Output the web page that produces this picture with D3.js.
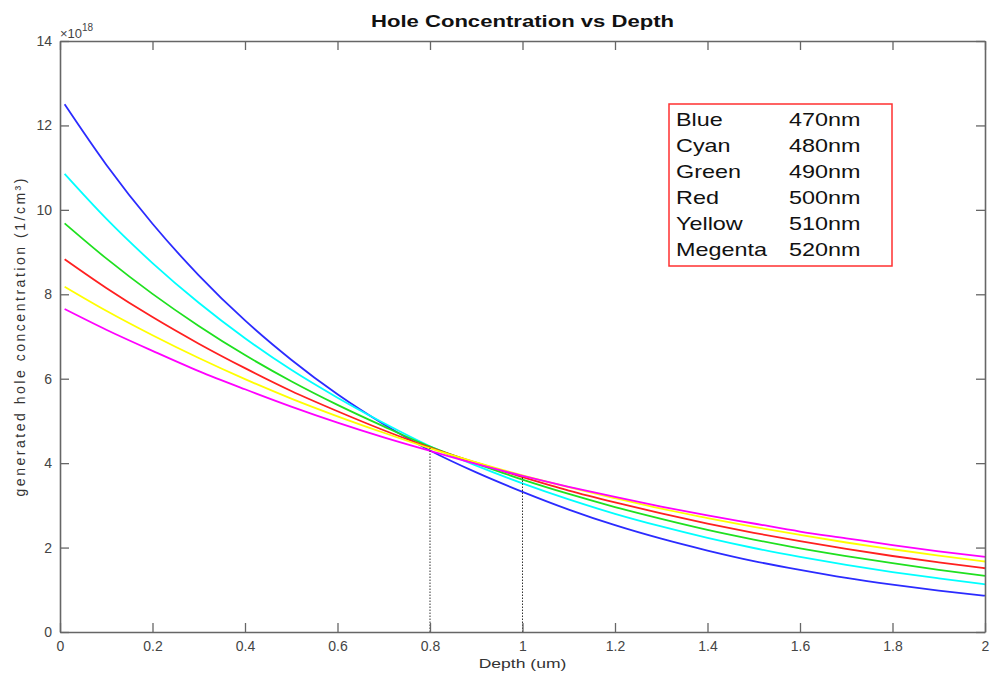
<!DOCTYPE html>
<html>
<head>
<meta charset="utf-8">
<script src="https://cdn.jsdelivr.net/npm/d3@7"></script>
<style>
  body { margin: 0; background: #fff; }
  text { font-family: "Liberation Sans", Arial, Helvetica, sans-serif; }
</style>
</head>
<body>
<script>
// depth (um) and generated hole concentration (x1e18 1/cm^3)
var depth = [0.01, 0.1, 0.2, 0.3, 0.4, 0.5, 0.6, 0.7, 0.8, 0.9, 1.0,
  1.1, 1.2, 1.3, 1.4, 1.5, 1.6, 1.7, 1.8, 1.9, 2.0];
var blue = [12.50, 11.07, 9.67, 8.45, 7.38, 6.45, 5.63, 4.92, 4.30, 3.78, 3.32,
  2.90, 2.53, 2.21, 1.93, 1.68, 1.47, 1.28, 1.12, 0.98, 0.86];
var cyan = [10.85, 9.79, 8.74, 7.80, 6.96, 6.21, 5.55, 4.95, 4.40, 3.94, 3.52,
  3.14, 2.80, 2.50, 2.23, 1.99, 1.78, 1.59, 1.42, 1.27, 1.13];
var green = [9.68, 8.85, 8.01, 7.25, 6.56, 5.94, 5.38, 4.87, 4.39, 3.99, 3.61,
  3.27, 2.96, 2.68, 2.42, 2.19, 1.98, 1.80, 1.63, 1.47, 1.33];
var red = [8.83, 8.15, 7.46, 6.83, 6.25, 5.71, 5.23, 4.78, 4.37, 4.01, 3.67,
  3.35, 3.07, 2.81, 2.57, 2.35, 2.15, 1.97, 1.80, 1.65, 1.51];
var yellow = [8.18, 7.61, 7.03, 6.49, 5.99, 5.53, 5.11, 4.72, 4.35, 4.02, 3.71,
  3.43, 3.17, 2.92, 2.70, 2.49, 2.30, 2.12, 1.96, 1.81, 1.67];
var magenta = [7.65, 7.16, 6.66, 6.18, 5.75, 5.34, 4.96, 4.61, 4.29, 3.98, 3.70,
  3.44, 3.20, 2.97, 2.76, 2.57, 2.38, 2.22, 2.06, 1.91, 1.78];

var seriesValues = [blue, cyan, green, red, yellow, magenta];
var seriesColors = ["#2b2bff", "#00ffff", "#1fe01f", "#ff2020", "#ffff00", "#ff00ff"];
var legendNames = ["Blue", "Cyan", "Green", "Red", "Yellow", "Megenta"];
var legendWaves = ["470nm", "480nm", "490nm", "500nm", "510nm", "520nm"];

var xTicks = [0, 0.2, 0.4, 0.6, 0.8, 1, 1.2, 1.4, 1.6, 1.8, 2];
var yTicks = [0, 2, 4, 6, 8, 10, 12, 14];

// dotted markers: depth, concentration reached
var markDepth = [0.8, 1.0];
var markValue = [4.36, 3.67];

var width = 990,
  height = 680,
  plotLeft = 60,
  plotRight = 985,
  plotTop = 41,
  plotBottom = 632,
  sx = 1.3; // text in the picture is drawn wide

var svg = d3.select("body")
  .append("svg")
  .attr("width", width)
  .attr("height", height);

var xScale = d3.scaleLinear().domain([0, 2]).range([plotLeft, plotRight]);
var yScale = d3.scaleLinear().domain([0, 14]).range([plotBottom, plotTop]);

function wideText(x, y, str, size, anchor) {
  return svg.append("text")
    .attr("transform", "translate(" + x + "," + y + ") scale(" + sx + ",1)")
    .attr("text-anchor", anchor || "middle")
    .style("font-size", size + "px")
    .text(str);
}

//----------Curves----------
var line = d3.line()
  .x(function (d, i) { return xScale(depth[i]); })
  .y(function (d) { return yScale(d); })
  .curve(d3.curveMonotoneX);

svg.selectAll("path.curve")
  .data(seriesValues)
  .enter()
  .append("path")
  .attr("class", "curve")
  .attr("d", line)
  .attr("fill", "none")
  .attr("stroke", function (d, i) { return seriesColors[i]; })
  .attr("stroke-width", 1.8);

//----------Dotted markers----------
svg.selectAll("line.mark")
  .data(markDepth)
  .enter()
  .append("line")
  .attr("class", "mark")
  .attr("x1", function (d) { return xScale(d); })
  .attr("x2", function (d) { return xScale(d); })
  .attr("y1", yScale(0))
  .attr("y2", function (d, i) { return yScale(markValue[i]); })
  .attr("stroke", "#333")
  .attr("stroke-width", 1)
  .attr("stroke-dasharray", "1.5,1.5");

//----------Axes (box, inward ticks)----------
function styleAxis(g) {
  g.select(".domain").attr("stroke", "#666").attr("stroke-width", 1.6);
  g.selectAll(".tick line").attr("stroke", "#666").attr("stroke-width", 1.3);
  g.selectAll(".tick text")
    .attr("fill", "#444")
    .style("font-size", "14px")
    .style("font-family", "'Liberation Sans', Arial, sans-serif");
}

svg.append("g")
  .attr("transform", "translate(0," + plotBottom + ")")
  .call(d3.axisBottom(xScale).tickValues(xTicks).tickSizeInner(-9).tickSizeOuter(0)
    .tickPadding(9).tickFormat(d3.format("~g")))
  .call(styleAxis);

svg.append("g")
  .attr("transform", "translate(0," + plotTop + ")")
  .call(d3.axisTop(xScale).tickValues(xTicks).tickSizeInner(-9).tickSizeOuter(0)
    .tickFormat(""))
  .call(styleAxis);

svg.append("g")
  .attr("transform", "translate(" + plotLeft + ",0)")
  .call(d3.axisLeft(yScale).tickValues(yTicks).tickSizeInner(-9).tickSizeOuter(0)
    .tickPadding(8))
  .call(styleAxis);

svg.append("g")
  .attr("transform", "translate(" + plotRight + ",0)")
  .call(d3.axisRight(yScale).tickValues(yTicks).tickSizeInner(-9).tickSizeOuter(0)
    .tickFormat(""))
  .call(styleAxis);

//----------Exponent----------
var expo = svg.append("text")
  .attr("x", plotLeft)
  .attr("y", plotTop - 3)
  .attr("fill", "#444")
  .style("font-size", "13px");
expo.append("tspan").text("\u00d710");
expo.append("tspan").attr("dy", -7).style("font-size", "10px").text("18");

//----------Labels----------
wideText((plotLeft + plotRight) / 2, 27, "Hole Concentration vs Depth", 17)
  .style("font-weight", "bold")
  .attr("fill", "#111");

wideText((plotLeft + plotRight) / 2, 668, "Depth (um)", 13.5)
  .attr("fill", "#333");

svg.append("text")
  .attr("transform", "translate(25," + ((plotTop + plotBottom) / 2 + 1) + ") rotate(-90)")
  .attr("text-anchor", "middle")
  .attr("textLength", 318)
  .attr("lengthAdjust", "spacing")
  .attr("fill", "#333")
  .style("font-size", "14px")
  .text("generated hole concentration (1/cm\u00b3)");

//----------Legend----------
svg.append("rect")
  .attr("x", 669)
  .attr("y", 104)
  .attr("width", 223)
  .attr("height", 162)
  .attr("fill", "#fff")
  .attr("stroke", "#ff3030")
  .attr("stroke-width", 1.5);

legendNames.forEach(function (name, i) {
  wideText(676, 126 + i * 25.9, name, 18, "start").attr("fill", "#111");
  wideText(789, 126 + i * 25.9, legendWaves[i], 18, "start").attr("fill", "#111");
});
</script>
</body>
</html>
